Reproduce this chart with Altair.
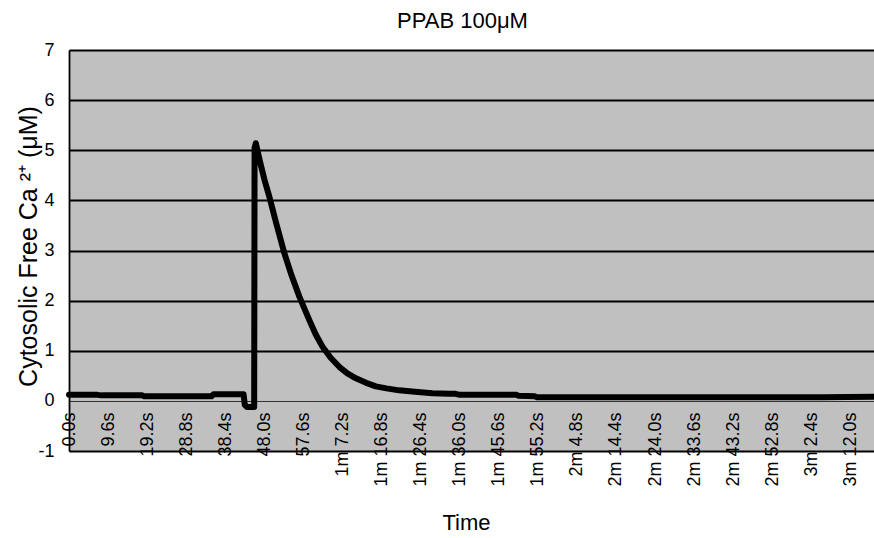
import altair as alt
import pandas as pd

# Time (s) and cytosolic free Ca2+ (uM)
times = [0, 7, 8, 18, 18.5, 35, 35.5, 42.9, 43.2, 43.7,
         45.5, 45.6, 45.9, 47.0, 48.0, 49.2, 50.9, 52.9, 54.7, 56.6,
         59.0, 60.6, 62.3, 64.3, 66.4, 68.4, 70.5, 73.0, 75.4, 78.0,
         81.1, 85.0, 89.3, 93.4, 95.0, 96.0, 110.0, 110.5, 114.5, 115.0,
         140.0, 170.0, 185.0, 197.8]
calcium = [0.12, 0.12, 0.11, 0.11, 0.09, 0.09, 0.13, 0.13, -0.08, -0.12,
           -0.12, 5.05, 5.14, 4.75, 4.42, 4.08, 3.55, 2.95, 2.5, 2.08,
           1.62, 1.33, 1.08, 0.86, 0.68, 0.55, 0.45, 0.36, 0.29, 0.25,
           0.21, 0.18, 0.15, 0.14, 0.14, 0.12, 0.12, 0.1, 0.09, 0.07,
           0.07, 0.07, 0.07, 0.08]

tick_values = [0, 9.6, 19.2, 28.8, 38.4, 48.0, 57.6, 67.2, 76.8, 86.4, 96.0,
               105.6, 115.2, 124.8, 134.4, 144.0, 153.6, 163.2, 172.8, 182.4, 192.0]
tick_labels = ["0.0s", "9.6s", "19.2s", "28.8s", "38.4s", "48.0s", "57.6s",
               "1m 7.2s", "1m 16.8s", "1m 26.4s", "1m 36.0s", "1m 45.6s", "1m 55.2s",
               "2m 4.8s", "2m 14.4s", "2m 24.0s", "2m 33.6s", "2m 43.2s", "2m 52.8s",
               "3m 2.4s", "3m 12.0s"]
y_ticks = [-1, 0, 1, 2, 3, 4, 5, 6, 7]

df = pd.DataFrame({"t": times, "ca": calcium})

label_array = "[" + ",".join("'" + s + "'" for s in tick_labels) + "]"
label_expr = label_array + "[round(datum.value / 9.6)]"

FONT = "Liberation Sans"

chart = alt.Chart(df).mark_line(
    color="black", strokeWidth=6, strokeJoin="round", strokeCap="round"
).encode(
    x=alt.X("t:Q",
            scale=alt.Scale(domain=[0, 197.8], nice=False, zero=False),
            axis=alt.Axis(values=tick_values, labelExpr=label_expr,
                          labelAngle=270, labelFlush=False, labelOverlap=False,
                          labelFontSize=18, labelFont=FONT, labelColor="black",
                          labelPadding=11, ticks=False, grid=False,
                          offset=-50, domainColor="#333333", domainWidth=1,
                          title="Time", titleFont=FONT, titleFontSize=22,
                          titleFontWeight="normal", titleColor="black",
                          titleX=397, titleY=128, titleAlign="center",
                          titleBaseline="alphabetic")),
    y=alt.Y("ca:Q",
            scale=alt.Scale(domain=[-1, 7], nice=False, zero=False),
            axis=alt.Axis(values=y_ticks, labelExpr="'' + datum.value",
                          labelFontSize=18, labelFont=FONT, labelColor="black",
                          labelPadding=15, ticks=False,
                          grid=True,
                          gridColor={"condition": {"test": "datum.value === 0", "value": "#333333"},
                                     "value": "black"},
                          gridWidth={"condition": {"test": "datum.value === 0", "value": 1},
                                     "value": 1.8},
                          domainColor="black", domainWidth=1.8,
                          title="Cytosolic Free Ca ²⁺ (μM)", titleFont=FONT,
                          titleFontSize=25, titleFontWeight="normal", titleColor="black",
                          titleAngle=270, titleX=-33, titleY=196, titleAlign="center",
                          titleBaseline="alphabetic")),
).properties(
    width=805,
    height=401,
    title=alt.Title("PPAB 100μM", font=FONT, fontSize=22, fontWeight="normal",
                    color="black", anchor="middle", frame="group",
                    baseline="alphabetic", offset=-9, dx=-9),
    autosize=alt.AutoSizeParams(type="none"),
    padding={"left": 69, "top": 50, "right": 0, "bottom": 87},
    background="white",
).configure_view(
    fill="#c0c0c0", stroke=None
)

chart.save("out.html", embed_options={"renderer": "svg", "actions": False})
